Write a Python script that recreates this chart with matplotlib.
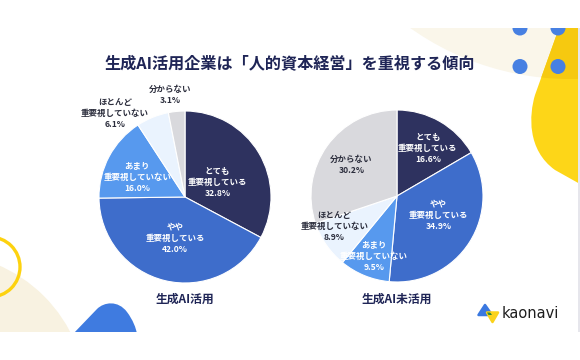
import matplotlib
matplotlib.use("Agg")
import matplotlib.pyplot as plt
import numpy as np
from matplotlib.patches import Circle, PathPatch, Rectangle, Polygon
from matplotlib.path import Path

plt.rcParams['font.family'] = ['Noto Sans CJK JP', 'DejaVu Sans']

# ---------------- data ----------------
title = "生成AI活用企業は「人的資本経営」を重視する傾向"
categories = ["とても\n重要視している", "やや\n重要視している", "あまり\n重要視していない",
              "ほとんど\n重要視していない", "分からない"]
used_values = [32.8, 42.0, 16.0, 6.1, 3.1]
unused_values = [16.6, 34.9, 9.5, 8.9, 30.2]
group_labels = ["生成AI活用", "生成AI未活用"]
brand = "kaonavi"

colors = ["#2e325f", "#3e6dcb", "#5799ee", "#eaf3fe", "#d9d9dd"]
NAVY = "#1f2556"
DARK = "#2b2d3c"

W, H = 580, 360
fig = plt.figure(figsize=(W / 100, H / 100), dpi=100)
fig.patch.set_facecolor("white")

def fx(x):
    return x / W

def fy(y):
    return 1 - y / H

# ---------------- decorations (slide area) ----------------
top, bot, right = 28, 332, 578
deco = fig.add_axes([0, fy(bot), right / W, (bot - top) / H])
deco.set_xlim(0, right)
deco.set_ylim(bot, top)
deco.axis("off")

cream = "#faf6ea"
cream_tr = Circle((570, -197), 276, facecolor=cream, edgecolor="none", zorder=1)
deco.add_patch(cream_tr)

yv = [(559, 20), (559, 28), (535, 95), (529, 115), (527, 150), (555, 170),
      (580, 184), (600, 184), (600, 20), (559, 20)]
yc = [Path.MOVETO, Path.LINETO, Path.LINETO, Path.CURVE4, Path.CURVE4, Path.CURVE4,
      Path.LINETO, Path.LINETO, Path.LINETO, Path.CLOSEPOLY]
ypath = Path(yv, yc)
deco.add_patch(PathPatch(ypath, facecolor="#fdd618", edgecolor="none", zorder=2))
dark_y = PathPatch(ypath, facecolor="#f6c910", edgecolor="none", zorder=3)
deco.add_patch(dark_y)
dark_y.set_clip_path(cream_tr)

for (cx, cy) in [(520, 28), (558, 28), (520, 66.5), (558, 66.5)]:
    deco.add_patch(Circle((cx, cy), 7.5, facecolor="#4780e2", edgecolor="none", zorder=4))

deco.add_patch(Circle((-60, 400), 147, facecolor="#f8f2e1", edgecolor="none", zorder=1))
deco.add_patch(Circle((-10, 267), 30, facecolor="none", edgecolor="#fdd20f", linewidth=2.4, zorder=3))

bv = [(73, 334), (97, 309), (104, 302), (118, 300), (127, 312), (133, 320), (136, 328),
      (137, 334), (73, 334)]
bc = [Path.MOVETO, Path.LINETO, Path.CURVE4, Path.CURVE4, Path.CURVE4, Path.CURVE4, Path.CURVE4,
      Path.LINETO, Path.CLOSEPOLY]
deco.add_patch(PathPatch(Path(bv, bc), facecolor="#3f7be0", edgecolor="none", zorder=3))

fig.patches.append(Rectangle((fx(578), fy(bot)), 2 / W, (bot - top) / H,
                             transform=fig.transFigure, facecolor="#e6e6ec", edgecolor="none"))

# ---------------- title ----------------
fig.text(fx(290), fy(63), title, ha="center", va="center", fontsize=11.6,
         fontweight="bold", color=NAVY)

# ---------------- pies ----------------
R = 86
label_layout = {
    0: [(0.41, -7), (0.49, 0), (0.60, 6), (1.27, 17.7), (1.20, 2.8)],
    1: [(0.66, -3), (0.53, 7.7), (0.75, 1.5), (0.81, -9), (0.64, 1.4)],
}
text_colors = {
    0: ["white", "white", "white", DARK, DARK],
    1: ["white", "white", "white", DARK, DARK],
}

def draw_pie(idx, cx, cy, values):
    ax = fig.add_axes([fx(cx - R), fy(cy + R), 2 * R / W, 2 * R / H])
    wedges, _ = ax.pie(values, colors=colors, startangle=90, counterclock=False,
                       radius=1, wedgeprops=dict(edgecolor="white", linewidth=0.8))
    ax.set_xlim(-1, 1)
    ax.set_ylim(-1, 1)
    ax.set_aspect("equal")
    ax.axis("off")
    for i, w in enumerate(wedges):
        d, off = label_layout[idx][i]
        ang = np.deg2rad((w.theta1 + w.theta2) / 2 + off)
        ax.text(d * np.cos(ang), d * np.sin(ang),
                f"{categories[i]}\n{values[i]:.1f}%", ha="center", va="center",
                fontsize=6.1, fontweight="bold", color=text_colors[idx][i],
                linespacing=1.3, clip_on=False)
    fig.text(fx(cx), fy(299), group_labels[idx], ha="center", va="center",
             fontsize=8.5, fontweight="bold", color=NAVY)

draw_pie(0, 185, 197, used_values)
draw_pie(1, 397, 196, unused_values)

# ---------------- logo ----------------
logo = fig.add_axes([0, 0, 1, 1], facecolor="none")
logo.set_xlim(0, W)
logo.set_ylim(H, 0)
logo.axis("off")
blue_pts = [(478.5, 315), (485, 305), (492, 315)]
yel_pts = [(487, 312.5), (498, 312.5), (492.5, 322)]
blue_tri = Polygon(blue_pts, closed=True, facecolor="#3a78e0",
                   edgecolor="#3a78e0", linewidth=1.8, joinstyle="round")
yel_tri = Polygon(yel_pts, closed=True, facecolor="#fbd21a",
                  edgecolor="#fbd21a", linewidth=1.8, joinstyle="round")
logo.add_patch(blue_tri)
logo.add_patch(yel_tri)
green = Polygon(yel_pts, closed=True, facecolor="#2f8a3a",
                edgecolor="none")
logo.add_patch(green)
green.set_clip_path(Polygon(blue_pts, closed=True, transform=logo.transData))
logo.text(502, 313.5, brand, ha="left", va="center", fontsize=10.5,
          family="DejaVu Sans", color="#1e1e1e")

fig.savefig("out.png", dpi=100)
